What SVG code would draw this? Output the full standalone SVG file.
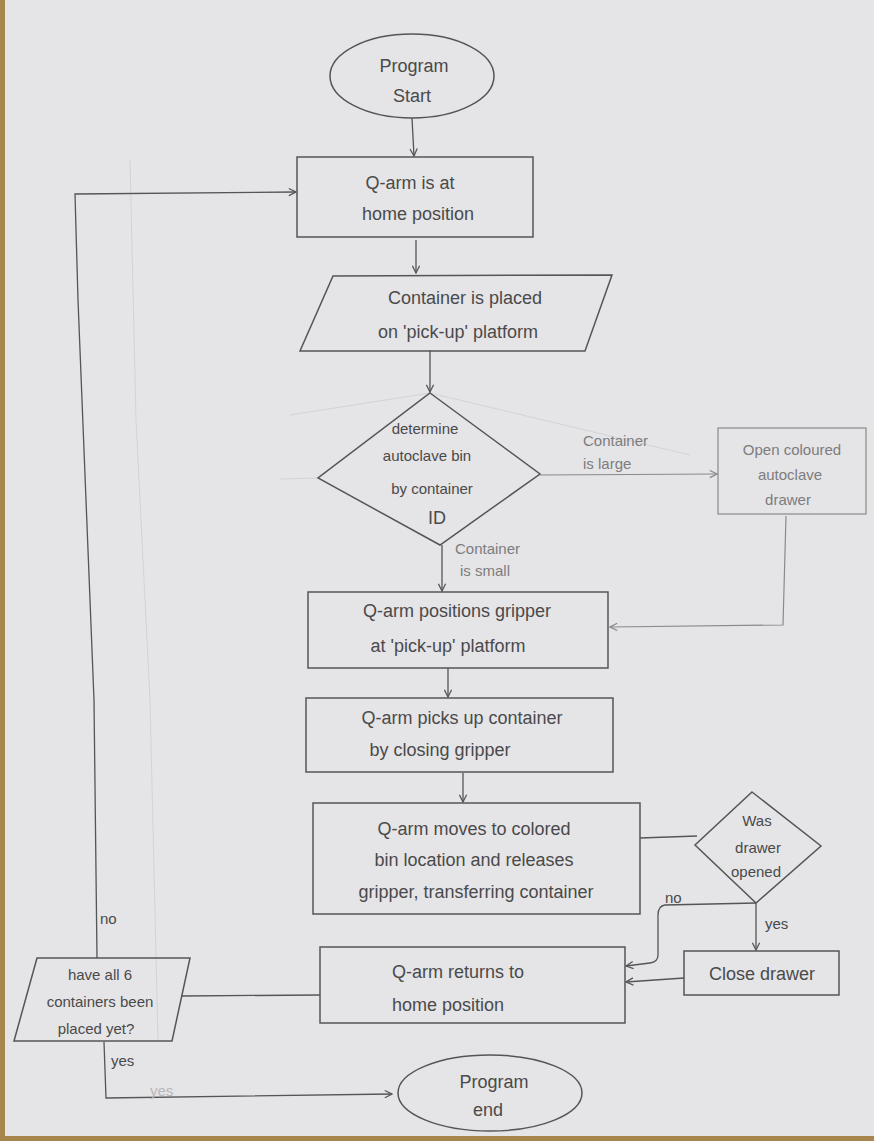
<svg xmlns="http://www.w3.org/2000/svg" width="874" height="1141" viewBox="0 0 874 1141">
<defs>
<marker id="arr" viewBox="0 0 10 10" refX="9" refY="5" markerWidth="9" markerHeight="9" orient="auto-start-reverse" markerUnits="userSpaceOnUse">
<path d="M1,1 L9,5 L1,9" fill="none" stroke="#555" stroke-width="1.4"/>
</marker>
<marker id="arrL" viewBox="0 0 10 10" refX="9" refY="5" markerWidth="9" markerHeight="9" orient="auto" markerUnits="userSpaceOnUse">
<path d="M1,1 L9,5 L1,9" fill="none" stroke="#888" stroke-width="1.3"/>
</marker>
<style>
.shape{fill:none;stroke:#555;stroke-width:1.5}
.light{fill:none;stroke:#8a8a8a;stroke-width:1.2}
.conn{fill:none;stroke:#555;stroke-width:1.3}
.connL{fill:none;stroke:#8a8a8a;stroke-width:1.2}
.faint{fill:none;stroke:#d3d3d6;stroke-width:1}
text{font-family:"Liberation Sans",Arial,sans-serif;font-size:18px;fill:#4a4a4a;text-anchor:middle}
.tl{fill:#7d7d7d}
.sm{font-size:15px}
.lab{font-size:15px;text-anchor:start}
</style>
</defs>
<rect x="0" y="0" width="874" height="1141" fill="#e5e4e7"/>
<rect x="0" y="0" width="5" height="1141" fill="#a8854a"/>
<rect x="0" y="1136" width="874" height="5" fill="#a8854a"/>
<g id="guides">
<path class="faint" d="M130,160 L136,420 L150,700 L158,1040"/>
<path class="faint" d="M290,415 L430,393 M430,393 L690,455 M280,479 L318,478"/>
</g>
<g id="connectors">
<path class="conn" d="M412,118 L414,156" marker-end="url(#arr)"/>
<path class="conn" d="M416,240 L416,273" marker-end="url(#arr)"/>
<path class="conn" d="M430,350 L430,392" marker-end="url(#arr)"/>
<path class="connL" d="M540,475 L717,474" marker-end="url(#arrL)"/>
<path class="connL" d="M786,516 L783,625 L610,627" marker-end="url(#arrL)"/>
<path class="conn" d="M442,545 L442,591" marker-end="url(#arr)"/>
<path class="conn" d="M448,668 L448,697" marker-end="url(#arr)"/>
<path class="conn" d="M463,773 L463,802" marker-end="url(#arr)"/>
<path class="conn" d="M640,838 L697,836"/>
<path class="conn" d="M756,903 L756,950" marker-end="url(#arr)"/>
<path class="conn" d="M756,903 L665,905 Q658,906 658,915 L658,955 Q658,962 650,963 L626,966" marker-end="url(#arr)"/>
<path class="conn" d="M684,978 L626,982" marker-end="url(#arr)"/>
<path class="conn" d="M320,995 L182,996"/>
<path class="conn" d="M97,958 L94,700 L78,300 L75,194 L296,192" marker-end="url(#arr)"/>
<path class="conn" d="M104,1042 L106,1098 L392,1094" marker-end="url(#arr)"/>
<text class="lab" x="100" y="924">no</text>
<text class="lab" x="111" y="1066">yes</text>
<text class="lab tl" x="150" y="1096" style="fill:#b8b8bb">yes</text>
<text class="lab tl" x="583" y="446">Container</text>
<text class="lab tl" x="583" y="469">is large</text>
<text class="lab tl" x="455" y="554">Container</text>
<text class="lab tl" x="460" y="576">is small</text>
<text class="lab" x="665" y="903">no</text>
<text class="lab" x="765" y="929">yes</text>
</g>
<g id="start">
<ellipse class="shape" cx="412" cy="76" rx="82" ry="42"/>
<text x="414" y="72">Program</text>
<text x="412" y="102">Start</text>
</g>
<g id="home">
<rect class="shape" x="297" y="157" width="236" height="80"/>
<text x="410" y="189">Q-arm  is at</text>
<text x="418" y="220">home position</text>
</g>
<g id="placed">
<polygon class="shape" points="333,276 612,275 585,351 300,351"/>
<text x="465" y="304">Container is placed</text>
<text x="458" y="338">on 'pick-up' platform</text>
</g>
<g id="determine">
<polygon class="shape" points="430,393 540,474 440,545 318,478"/>
<text x="425" y="434" class="sm">determine</text>
<text x="427" y="461" class="sm">autoclave bin</text>
<text x="432" y="494" class="sm">by container</text>
<text x="437" y="524">ID</text>
</g>
<g id="open">
<rect class="light" x="718" y="428" width="148" height="86"/>
<text x="792" y="455" class="sm tl">Open coloured</text>
<text x="790" y="480" class="sm tl">autoclave</text>
<text x="788" y="505" class="sm tl">drawer</text>
</g>
<g id="position">
<rect class="shape" x="308" y="592" width="300" height="76"/>
<text x="457" y="617">Q-arm positions gripper</text>
<text x="448" y="652">at 'pick-up' platform</text>
</g>
<g id="pickup">
<rect class="shape" x="306" y="698" width="307" height="74"/>
<text x="462" y="724">Q-arm picks up container</text>
<text x="440" y="756">by closing gripper</text>
</g>
<g id="moves">
<rect class="shape" x="313" y="803" width="327" height="111"/>
<text x="474" y="835">Q-arm  moves to colored</text>
<text x="474" y="866">bin location and releases</text>
<text x="476" y="898">gripper, transferring container</text>
</g>
<g id="wasopened">
<polygon class="shape" points="752,792 821,846 756,903 695,845"/>
<text x="757" y="826" class="sm">Was</text>
<text x="758" y="853" class="sm">drawer</text>
<text x="756" y="877" class="sm">opened</text>
</g>
<g id="close">
<rect class="shape" x="684" y="951" width="155" height="44"/>
<text x="762" y="980">Close drawer</text>
</g>
<g id="returns">
<rect class="shape" x="320" y="947" width="305" height="76"/>
<text x="458" y="978">Q-arm  returns  to</text>
<text x="448" y="1011">home  position</text>
</g>
<g id="allplaced">
<polygon class="shape" points="37,958 190,958 172,1041 14,1041"/>
<text x="100" y="980" class="sm">have all 6</text>
<text x="100" y="1007" class="sm">containers been</text>
<text x="96" y="1034" class="sm">placed yet?</text>
</g>
<g id="end">
<ellipse class="shape" cx="490" cy="1093" rx="92" ry="38"/>
<text x="494" y="1088">Program</text>
<text x="488" y="1116">end</text>
</g>
</svg>
